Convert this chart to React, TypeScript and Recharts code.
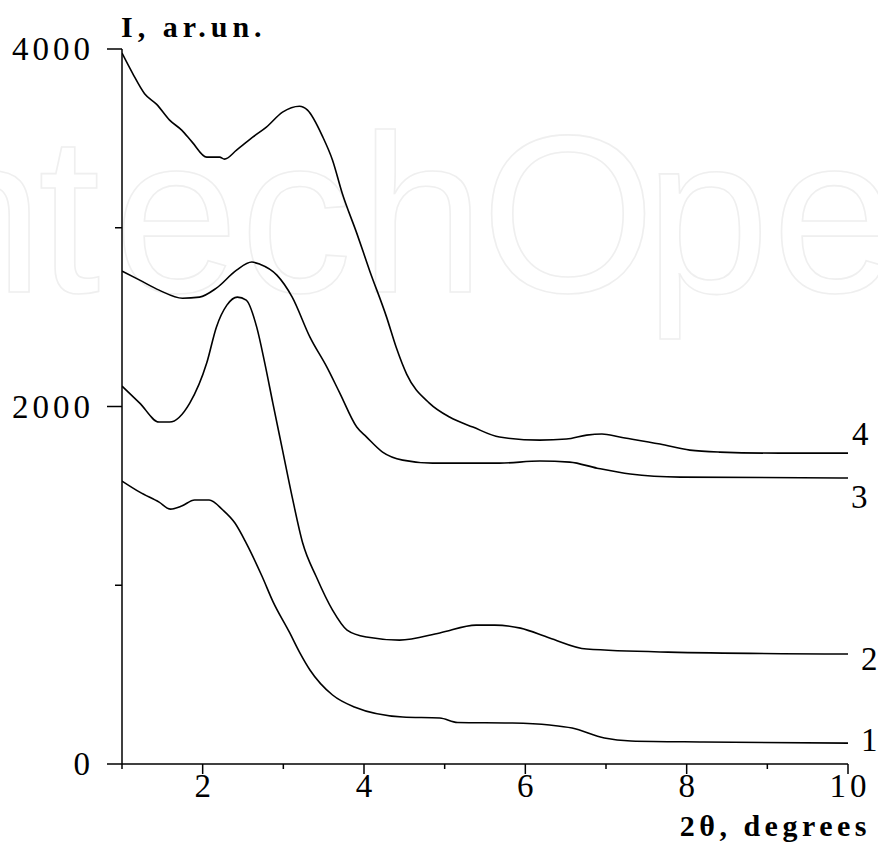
import React from "react";
import { LineChart, Line, XAxis, YAxis } from "recharts";

// Curve data: [2θ (degrees), intensity (ar.un.)]
const curve1 = [
  { x: 1.0, y: 1583 }, { x: 1.22, y: 1521 }, { x: 1.46, y: 1465 }, { x: 1.6, y: 1426 },
  { x: 1.74, y: 1443 }, { x: 1.9, y: 1477 }, { x: 2.08, y: 1477 }, { x: 2.25, y: 1421 },
  { x: 2.4, y: 1348 }, { x: 2.54, y: 1236 }, { x: 2.74, y: 1046 }, { x: 2.87, y: 910 },
  { x: 3.08, y: 733 }, { x: 3.2, y: 626 }, { x: 3.33, y: 526 }, { x: 3.61, y: 386 },
  { x: 3.88, y: 319 }, { x: 4.48, y: 263 }, { x: 4.94, y: 257 }, { x: 5.16, y: 232 },
  { x: 5.84, y: 229 }, { x: 6.3, y: 218 }, { x: 6.58, y: 201 }, { x: 6.98, y: 145 },
  { x: 7.31, y: 129 }, { x: 8.21, y: 123 }, { x: 10.0, y: 117 },
];

const curve2 = [
  { x: 1.0, y: 2114 }, { x: 1.22, y: 2019 }, { x: 1.46, y: 1913 }, { x: 1.59, y: 1913 },
  { x: 1.84, y: 2019 }, { x: 2.05, y: 2243 }, { x: 2.17, y: 2444 }, { x: 2.3, y: 2567 },
  { x: 2.43, y: 2612 }, { x: 2.54, y: 2595 }, { x: 2.67, y: 2444 }, { x: 2.77, y: 2243 },
  { x: 2.87, y: 2019 }, { x: 2.99, y: 1756 }, { x: 3.11, y: 1493 }, { x: 3.24, y: 1236 },
  { x: 3.41, y: 1046 }, { x: 3.61, y: 861 }, { x: 3.79, y: 749 }, { x: 4.03, y: 710 },
  { x: 4.44, y: 693 }, { x: 4.94, y: 733 }, { x: 5.39, y: 777 }, { x: 5.62, y: 777 },
  { x: 5.94, y: 760 }, { x: 6.3, y: 705 }, { x: 6.76, y: 643 }, { x: 7.77, y: 626 },
  { x: 10.0, y: 615 },
];

const curve3 = [
  { x: 1.0, y: 2757 }, { x: 1.22, y: 2707 }, { x: 1.46, y: 2651 }, { x: 1.75, y: 2606 },
  { x: 1.96, y: 2612 }, { x: 2.17, y: 2662 }, { x: 2.42, y: 2763 }, { x: 2.61, y: 2808 },
  { x: 2.71, y: 2796 }, { x: 2.92, y: 2735 }, { x: 3.11, y: 2612 }, { x: 3.33, y: 2388 },
  { x: 3.54, y: 2220 }, { x: 3.7, y: 2075 }, { x: 3.91, y: 1885 }, { x: 4.03, y: 1830 },
  { x: 4.23, y: 1745 }, { x: 4.48, y: 1700 }, { x: 4.85, y: 1683 }, { x: 5.68, y: 1683 },
  { x: 6.18, y: 1695 }, { x: 6.55, y: 1689 }, { x: 6.89, y: 1655 }, { x: 7.3, y: 1622 },
  { x: 7.92, y: 1605 }, { x: 10.0, y: 1600 },
];

const curve4 = [
  { x: 1.0, y: 3977 }, { x: 1.13, y: 3865 }, { x: 1.28, y: 3750 }, { x: 1.43, y: 3690 },
  { x: 1.59, y: 3602 }, { x: 1.74, y: 3546 }, { x: 1.87, y: 3479 }, { x: 2.05, y: 3395 },
  { x: 2.21, y: 3395 }, { x: 2.27, y: 3384 }, { x: 2.42, y: 3434 }, { x: 2.62, y: 3507 },
  { x: 2.79, y: 3563 }, { x: 2.99, y: 3647 }, { x: 3.2, y: 3680 }, { x: 3.3, y: 3658 },
  { x: 3.49, y: 3507 }, { x: 3.61, y: 3378 }, { x: 3.73, y: 3193 }, { x: 3.91, y: 2970 },
  { x: 4.07, y: 2760 }, { x: 4.28, y: 2500 }, { x: 4.4, y: 2330 }, { x: 4.53, y: 2180 },
  { x: 4.81, y: 2019 }, { x: 5.06, y: 1941 }, { x: 5.35, y: 1885 }, { x: 5.68, y: 1829 },
  { x: 6.18, y: 1812 }, { x: 6.51, y: 1818 }, { x: 6.76, y: 1840 }, { x: 6.95, y: 1846 },
  { x: 7.17, y: 1829 }, { x: 7.67, y: 1790 }, { x: 8.04, y: 1756 }, { x: 8.41, y: 1745 },
  { x: 9.15, y: 1739 }, { x: 10.0, y: 1739 },
];

const xTicks = [1, 2, 3, 4, 5, 6, 7, 8, 9, 10];
const xLabeled = [2, 4, 6, 8, 10];
const yTicks = [0, 1000, 2000, 3000, 4000];
const yLabeled = [0, 2000, 4000];
const curveNames = ["1", "2", "3", "4"];

const SERIF = "Liberation Serif, Times New Roman, Times, serif";

const YTick = (props: any) => {
  const { x, y, payload } = props;
  const v = payload.value;
  const major = yLabeled.includes(v);
  return (
    <g>
      <line x1={x - (major ? 15 : 7)} x2={x} y1={y} y2={y} stroke="#000" strokeWidth={1.5} />
      {major && (
        <text x={x - 28} y={y + 11} textAnchor="end" fontFamily={SERIF} fontSize={33} letterSpacing={4} fill="#000">
          {v}
        </text>
      )}
    </g>
  );
};

const XTick = (props: any) => {
  const { x, y, payload } = props;
  const v = payload.value;
  const major = xLabeled.includes(v);
  return (
    <g>
      <line x1={x} x2={x} y1={y} y2={y + (major ? 10 : 5)} stroke="#000" strokeWidth={1.5} />
      {major && (
        <text x={x + 2} y={y + 33} textAnchor="middle" fontFamily={SERIF} fontSize={33} letterSpacing={4} fill="#000">
          {v}
        </text>
      )}
    </g>
  );
};

const makeEndLabel = (name: string, count: number, dx: number, dy: number) => (p: any) => {
  if (p.index !== count - 1) return <g />;
  return (
    <text x={p.x + dx} y={p.y + dy} fontFamily={SERIF} fontSize={33} fill="#000">
      {name}
    </text>
  );
};

const YTitle = (p: any) => {
  const vb = p.viewBox;
  return (
    <text x={vb.x + vb.width - 1} y={vb.y - 12} fontFamily={SERIF} fontWeight="bold" fontSize={30} letterSpacing={5} fill="#000">
      I, ar.un.
    </text>
  );
};

const XTitle = (p: any) => {
  const vb = p.viewBox;
  return (
    <text x={vb.x + vb.width + 23} y={vb.y + 72} textAnchor="end" fontFamily={SERIF} fontWeight="bold" fontSize={30} letterSpacing={4.5} fill="#000">
      2θ, degrees
    </text>
  );
};

const watermark = [
  { ch: "n", x: -81 }, { ch: "t", x: 38 }, { ch: "e", x: 114 }, { ch: "c", x: 240 },
  { ch: "h", x: 360 }, { ch: "O", x: 481 }, { ch: "p", x: 645 }, { ch: "e", x: 772 },
];

export default function App() {
  const series = [curve1, curve2, curve3, curve4];
  const offsets = [
    [13, 8],
    [13, 16],
    [3, 30],
    [4, -8],
  ];
  return (
    <div style={{ position: "absolute", left: 0, top: 0, width: 878, height: 846, background: "#fff" }}>
      <svg width={878} height={846} style={{ position: "absolute", left: 0, top: 0 }}>
        {watermark.map((w, i) => (
          <text key={i} x={w.x} y={292} fontFamily="Liberation Sans, Arial, sans-serif" fontSize={224} fill="none" stroke="#efefef" strokeWidth={1.6}>
            {w.ch}
          </text>
        ))}
      </svg>
      <div style={{ position: "absolute", left: 0, top: 0 }}>
        <LineChart width={878} height={846} margin={{ top: 49, right: 30, bottom: 0, left: 0 }}>
          <XAxis
            type="number"
            dataKey="x"
            domain={[1, 10]}
            ticks={xTicks}
            interval={0}
            height={82}
            tickSize={0}
            tickMargin={0}
            tickLine={false}
            axisLine={{ stroke: "#000", strokeWidth: 1.5 }}
            tick={<XTick />}
            allowDataOverflow
            label={<XTitle />}
          />
          <YAxis
            type="number"
            dataKey="y"
            domain={[0, 4000]}
            ticks={yTicks}
            interval={0}
            width={122}
            tickSize={0}
            tickMargin={0}
            tickLine={false}
            axisLine={{ stroke: "#000", strokeWidth: 1.5 }}
            tick={<YTick />}
            allowDataOverflow
            label={<YTitle />}
          />
          {series.map((d, i) => (
            <Line
              key={curveNames[i]}
              data={d}
              dataKey="y"
              type="monotone"
              stroke="#000"
              strokeWidth={1.6}
              dot={false}
              activeDot={false}
              isAnimationActive={false}
              label={makeEndLabel(curveNames[i], d.length, offsets[i][0], offsets[i][1])}
            />
          ))}
        </LineChart>
      </div>
    </div>
  );
}
